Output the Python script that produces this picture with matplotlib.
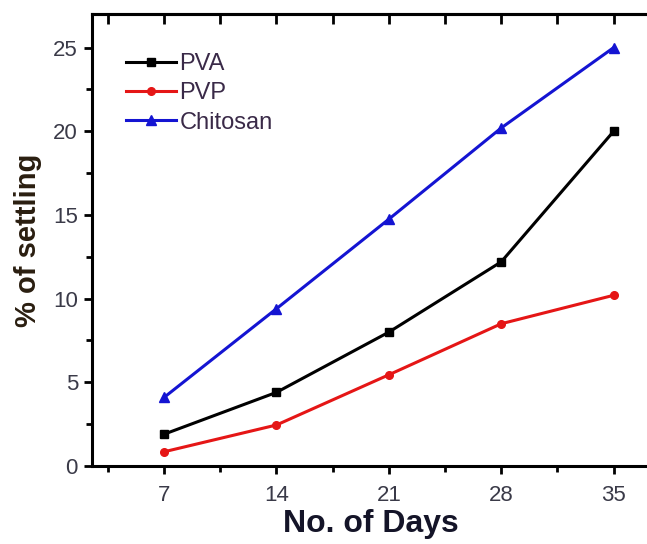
import matplotlib
matplotlib.use("Agg")
import matplotlib.pyplot as plt
from matplotlib.ticker import MultipleLocator

plt.rcParams['font.family'] = ['Liberation Sans', 'DejaVu Sans']

# data
days = [7, 14, 21, 28, 35]
pva = [1.9, 4.4, 8.0, 12.2, 20.0]
pvp = [0.85, 2.45, 5.45, 8.5, 10.2]
chitosan = [4.1, 9.4, 14.75, 20.2, 25.0]

xticks = [7, 14, 21, 28, 35]
yticks = [0, 5, 10, 15, 20, 25]

fig = plt.figure(figsize=(6.47, 5.44), dpi=100)
ax = fig.add_axes([0.142, 0.1434, 0.861, 0.8306])

ax.plot(days, pva, color='black', lw=2.2, marker='s', ms=6, label='PVA')
ax.plot(days, pvp, color='#e51616', lw=2.2, marker='o', ms=5.5, label='PVP')
ax.plot(days, chitosan, color='#1414d2', lw=2.2, marker='^', ms=7.5, label='Chitosan')

ax.set_xlim(2.5, 37.2)
ax.set_ylim(0, 27)
ax.set_xticks(xticks)
ax.set_yticks(yticks)
ax.xaxis.set_minor_locator(MultipleLocator(3.5))
ax.yaxis.set_minor_locator(MultipleLocator(2.5))

tick_col = '#3a3a48'
ax.tick_params(axis='both', which='major', direction='out', length=6, width=2,
               labelsize=16, labelcolor=tick_col, pad=4)
ax.tick_params(axis='both', which='minor', direction='out', length=4, width=2)
ax.tick_params(axis='x', which='major', pad=8)

# inward ticks along the top edge
sec = ax.secondary_xaxis('top')
sec.set_xticks(xticks)
sec.xaxis.set_minor_locator(MultipleLocator(3.5))
sec.tick_params(which='major', direction='in', length=7, width=2, labeltop=False)
sec.tick_params(which='minor', direction='in', length=7, width=2)
sec.spines['top'].set_linewidth(2.2)

for side in ['left', 'bottom', 'top']:
    ax.spines[side].set_linewidth(2.2)
ax.spines['right'].set_visible(False)

ax.set_xlabel('No. of Days', fontsize=23, fontweight='bold', color='#141428', labelpad=2)
ax.set_ylabel('% of settling', fontsize=21, fontweight='bold', color='#2a1e10', labelpad=8)

leg = ax.legend(loc='upper left', frameon=False, fontsize=17, handlelength=2.1,
                handletextpad=0.15, labelspacing=0.3, borderaxespad=0.4,
                bbox_to_anchor=(0.028, 0.955))
for t in leg.get_texts():
    t.set_color('#3a2a48')

fig.savefig('out.png', dpi=100)
